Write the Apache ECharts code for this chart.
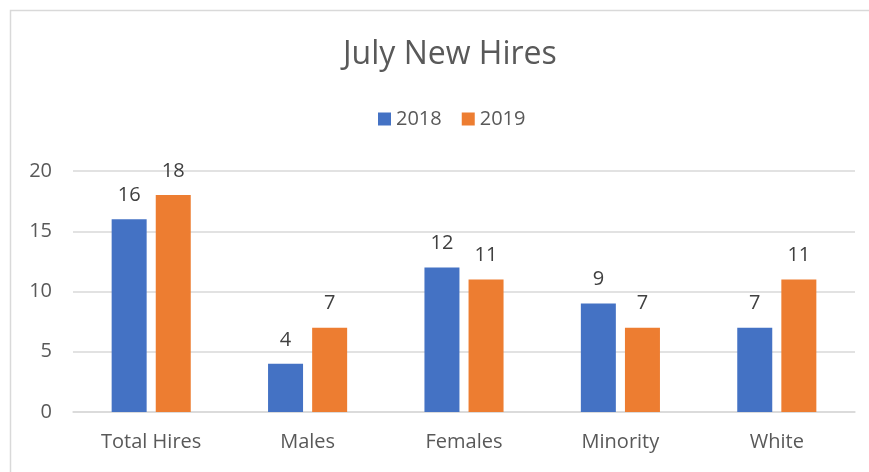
<!DOCTYPE html>
<html><head><meta charset="utf-8">
<script src="https://cdn.jsdelivr.net/npm/echarts@6/dist/echarts.min.js"></script>
<style>html,body{margin:0;padding:0;background:#fff}#c{width:869px;height:472px}</style>
</head><body><div id="c"></div>
<script>
const categories = ['Total Hires', 'Males', 'Females', 'Minority', 'White'];
const values2018 = [16, 4, 12, 9, 7];
const values2019 = [18, 7, 11, 7, 11];
const seriesNames = ['2018', '2019'];
const yTicks = [0, 5, 10, 15, 20];

const FONT = 'Open Sans';
const TXT = '#595959';
const chart = echarts.init(document.getElementById('c'), null, {renderer: 'canvas'});
const labelCfg = {show: true, position: 'top', distance: 14, color: '#404040', fontSize: 20, fontFamily: FONT};
chart.setOption({
  animation: false,
  backgroundColor: '#fff',
  graphic: [{type: 'rect', shape: {x: 10.5, y: 10.5, width: 900, height: 500}, style: {fill: 'none', stroke: '#d9d9d9', lineWidth: 1.5}}],
  title: {text: 'July New Hires', left: 338, top: 34, textStyle: {fontFamily: FONT, fontSize: 32, fontWeight: 'normal', color: TXT}},
  legend: {data: seriesNames, top: 104, left: 373, itemWidth: 13, itemHeight: 13, itemGap: 20, icon: 'rect',
    textStyle: {fontFamily: FONT, fontSize: 20, color: TXT}},
  grid: {left: 73, right: 14, top: 171, bottom: 60, containLabel: false},
  xAxis: {type: 'category', data: categories,
    axisLine: {show: true, lineStyle: {color: '#d9d9d9', width: 1.5}}, axisTick: {show: false},
    axisLabel: {fontFamily: FONT, fontSize: 20, color: TXT, margin: 20}},
  yAxis: {type: 'value', min: yTicks[0], max: yTicks[yTicks.length - 1], interval: 5,
    axisLine: {show: false}, axisTick: {show: false},
    axisLabel: {fontFamily: FONT, fontSize: 20, color: TXT, margin: 21},
    splitLine: {lineStyle: {color: '#d9d9d9', width: 1.5}}},
  series: [
    {name: seriesNames[0], type: 'bar', data: values2018, barWidth: 35, barGap: '26%', itemStyle: {color: '#4472C4'}, label: labelCfg},
    {name: seriesNames[1], type: 'bar', data: values2019, barWidth: 35, itemStyle: {color: '#ED7D31'}, label: labelCfg}
  ]
});
</script></body></html>
